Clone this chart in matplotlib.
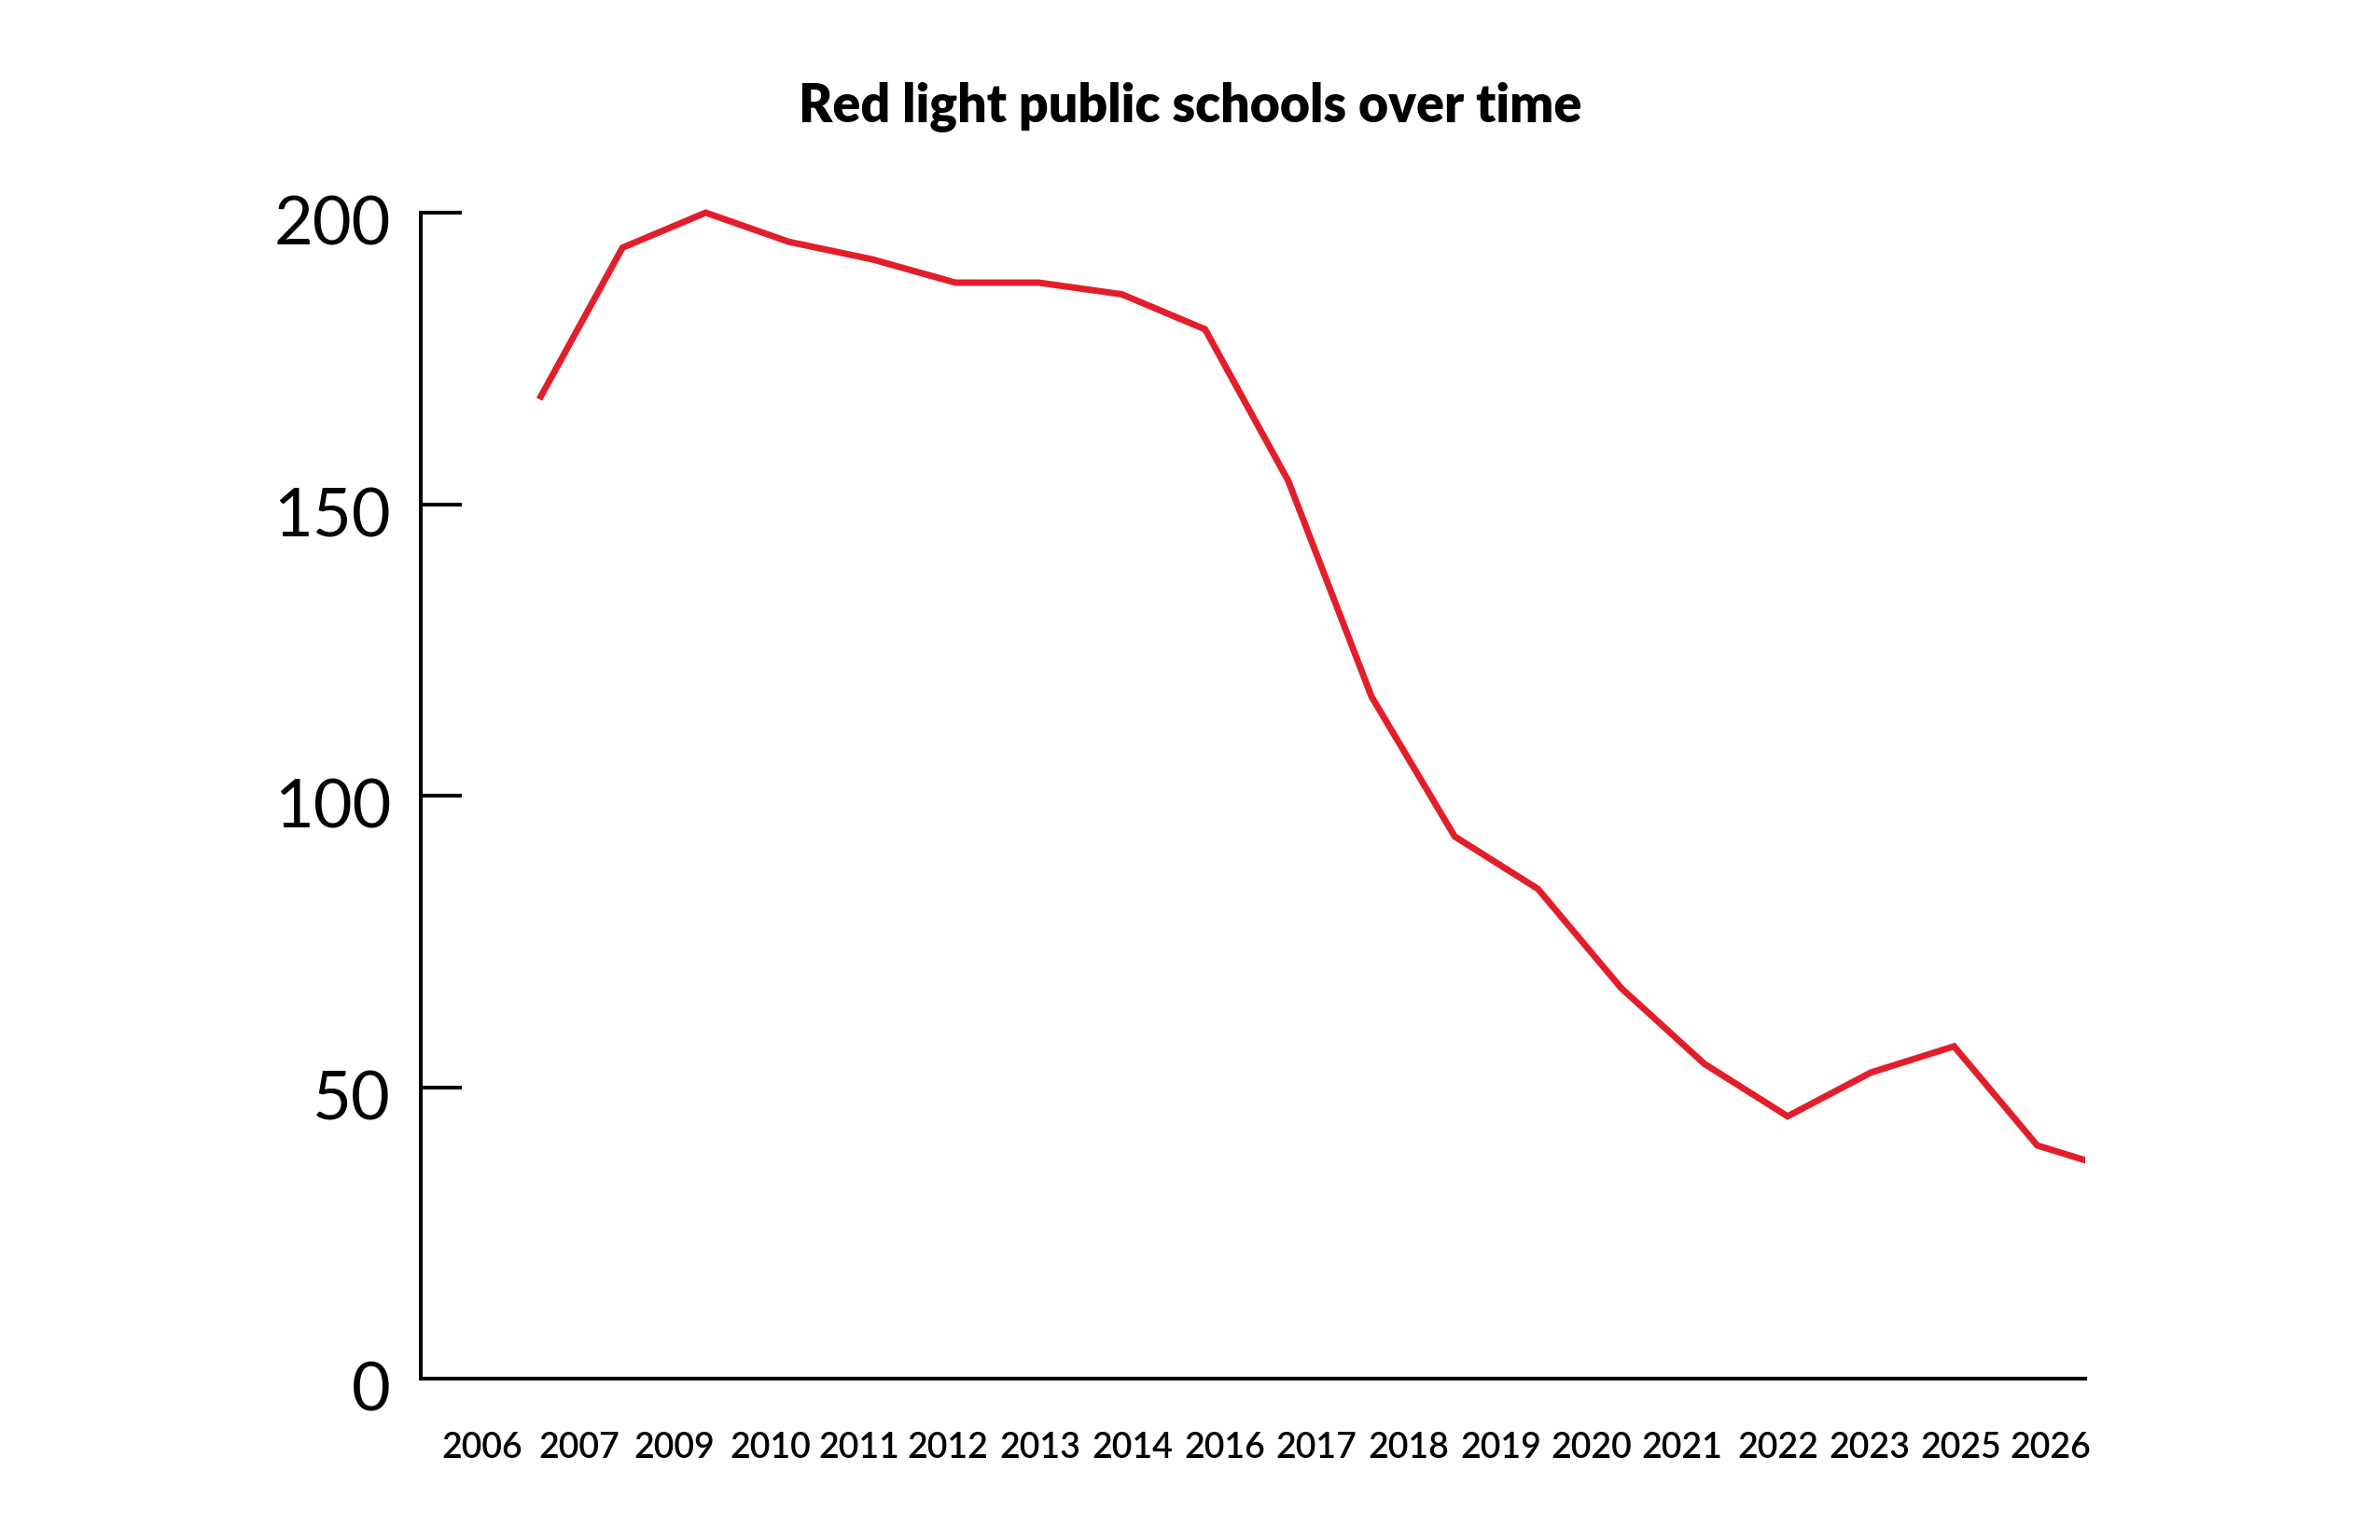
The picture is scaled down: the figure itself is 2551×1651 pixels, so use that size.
import matplotlib
matplotlib.use('Agg')
import matplotlib.pyplot as plt
import matplotlib.transforms as mtransforms

# values
values = [168, 194, 200, 195, 192, 188, 188, 186, 180, 154,
          117, 93, 84, 67, 54, 45, 52.5, 57, 40, 35.6]
year_labels = ['2006', '2007', '2009', '2010', '2011', '2012', '2013', '2014', '2016',
               '2017', '2018', '2019', '2020', '2021', '2022', '2023', '2025', '2026']
y_ticks = [0, 50, 100, 150, 200]

# label centres in the reference, as a fraction of the axis width (layout only)
label_frac = [0.0370, 0.0953, 0.1525, 0.2102, 0.2635, 0.3167, 0.3722, 0.4277, 0.4832,
              0.5381, 0.5936, 0.6491, 0.7035, 0.7578, 0.8156, 0.8705, 0.9254, 0.9790]

red = '#e31e2a'
plt.rcParams['font.family'] = ['Lato', 'DejaVu Sans']

W, H = 2551, 1651
fig = plt.figure(figsize=(W / 100, H / 100), dpi=100)
# axes box in pixels: left 451, right 2235, y=0 at 1478, y=200 at 228
ppu = (1478 - 228) / 200
ymax = 205
top_px = 1478 - ymax * ppu
ax = fig.add_axes([451 / W, 1 - 1478 / H, (2235 - 451) / W, (1478 - top_px) / H])

x = list(range(len(values)))
ax.plot(x, values, color=red, lw=5, solid_joinstyle='miter', solid_capstyle='butt')

xlo, xhi = -1.424, 18.576
ax.set_xlim(xlo, xhi)
ax.set_ylim(0, ymax)

for s in ['top', 'right']:
    ax.spines[s].set_visible(False)
for s in ['left', 'bottom']:
    ax.spines[s].set_linewidth(2.9)
ax.spines['left'].set_bounds(0, 200)

ax.set_yticks(y_ticks)
ax.set_yticklabels([str(v) for v in y_ticks])
ax.tick_params(axis='y', direction='in', length=32, width=2.9, pad=23,
               labelsize=52)
# the reference sets its value labels a little below the tick marks
shift = mtransforms.ScaledTranslation(0, -6 / 72, fig.dpi_scale_trans)
for lbl in ax.get_yticklabels():
    lbl.set_transform(lbl.get_transform() + shift)

ax.set_xticks([xlo + f * (xhi - xlo) for f in label_frac])
ax.set_xticklabels(year_labels, fontweight='semibold')
ax.tick_params(axis='x', length=0, pad=41, labelsize=27)

fig.text(0.5, 1 - 131 / H, 'Red light public schools over time', ha='center',
         va='baseline', fontsize=40, fontweight='heavy')

fig.savefig('out.png', dpi=100, facecolor='white')
